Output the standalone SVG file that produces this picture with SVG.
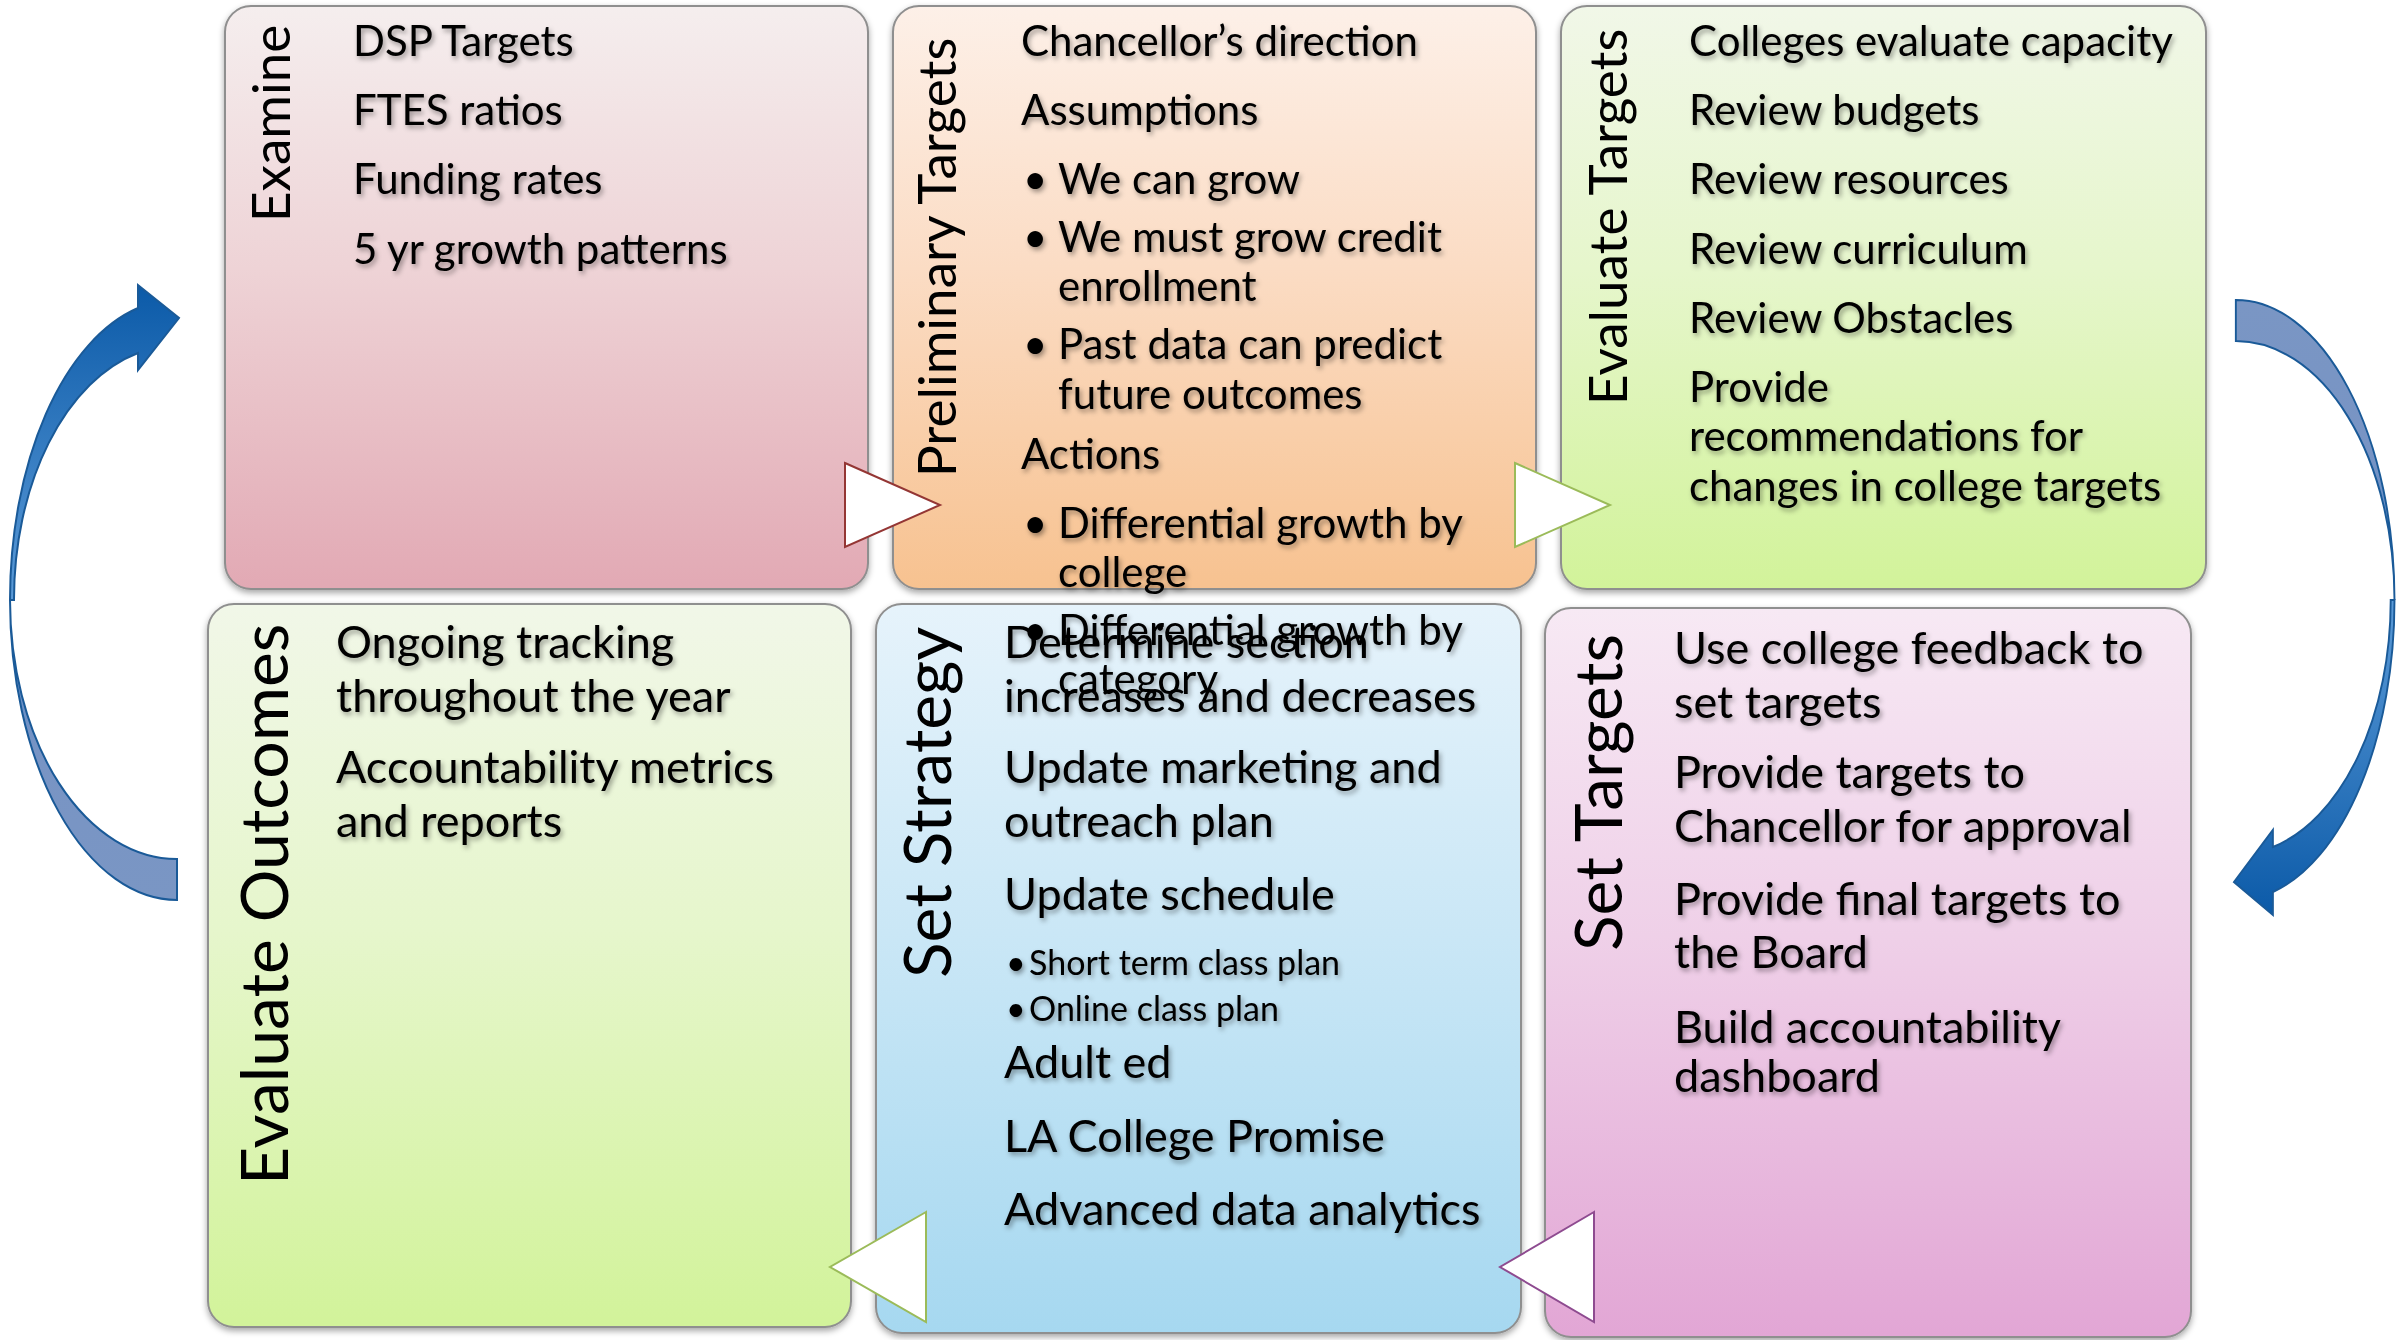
<svg xmlns="http://www.w3.org/2000/svg" width="2397" height="1340" viewBox="0 0 2397 1340">
<defs>
  <linearGradient id="gPink" x1="0" y1="0" x2="0" y2="1">
    <stop offset="0" stop-color="#f5eeee"/><stop offset="0.45" stop-color="#eed3d6"/><stop offset="1" stop-color="#e2a9b4"/>
  </linearGradient>
  <linearGradient id="gPeach" x1="0" y1="0" x2="0" y2="1">
    <stop offset="0" stop-color="#fdf0e8"/><stop offset="0.45" stop-color="#fbdcc4"/><stop offset="1" stop-color="#f7c290"/>
  </linearGradient>
  <linearGradient id="gGreen" x1="0" y1="0" x2="0" y2="1">
    <stop offset="0" stop-color="#f1f7e8"/><stop offset="0.45" stop-color="#e6f6cc"/><stop offset="1" stop-color="#d2f39a"/>
  </linearGradient>
  <linearGradient id="gBlue" x1="0" y1="0" x2="0" y2="1">
    <stop offset="0" stop-color="#e6f3fb"/><stop offset="0.45" stop-color="#cae7f6"/><stop offset="1" stop-color="#a6d8f0"/>
  </linearGradient>
  <linearGradient id="gMag" x1="0" y1="0" x2="0" y2="1">
    <stop offset="0" stop-color="#f7e9f4"/><stop offset="0.45" stop-color="#efd0e8"/><stop offset="1" stop-color="#e2a6d5"/>
  </linearGradient>
  <linearGradient id="gHead" gradientUnits="userSpaceOnUse" x1="0" y1="285" x2="0" y2="600">
    <stop offset="0" stop-color="#0b5aa8"/><stop offset="1" stop-color="#5c9bd8"/>
  </linearGradient>
  <linearGradient id="gTail" gradientUnits="userSpaceOnUse" x1="0" y1="600" x2="0" y2="900">
    <stop offset="0" stop-color="#4e86c8"/><stop offset="0.5" stop-color="#7894c4"/><stop offset="1" stop-color="#7a96c4"/>
  </linearGradient>
  <filter id="boxShadow" x="-5%" y="-5%" width="110%" height="110%">
    <feDropShadow dx="0" dy="3" stdDeviation="3" flood-color="#000" flood-opacity="0.35"/>
  </filter>
  <filter id="txtShadow" x="-5%" y="-20%" width="110%" height="140%">
    <feDropShadow dx="2" dy="3" stdDeviation="2.5" flood-color="#000" flood-opacity="0.38"/>
  </filter>
</defs>
<style>
  .box { stroke: #8f8f8f; stroke-width: 2; filter: url(#boxShadow); }
  .t { font-family: Lato, "Liberation Sans", sans-serif; fill: #000; filter: url(#txtShadow); }
  .top { font-size: 42px; }
  .bot { font-size: 45px; }
  .sm { font-size: 34px; }
  .title { font-family: Lato, "Liberation Sans", sans-serif; font-weight: 400; fill: #000; }
  .ttop { font-size: 53px; }
  .tbot { font-size: 66px; }
  .tri { fill: #ffffff; stroke-width: 2; }
  .arrow { stroke: #1a5a98; stroke-width: 2; }
</style>

<g id="node-evaluate-outcomes">
  <rect class="box" x="208" y="604" width="643" height="723" rx="26" fill="url(#gGreen)"/>
  <text class="title tbot" transform="translate(288,1185) rotate(-90)">Evaluate Outcomes</text>
  <g class="t bot">
    <text x="336" y="658">Ongoing tracking</text>
    <text x="336" y="712">throughout the year</text>
    <text x="336" y="783">Accountability metrics</text>
    <text x="336" y="837">and reports</text>
  </g>
</g>

<g id="node-set-strategy">
  <rect class="box" x="876" y="604" width="645" height="729" rx="26" fill="url(#gBlue)"/>
  <text class="title tbot" transform="translate(951,978) rotate(-90)">Set Strategy</text>
  <g class="t bot">
    <text x="1004" y="658">Determine section</text>
    <text x="1004" y="712">increases and decreases</text>
    <text x="1004" y="783">Update marketing and</text>
    <text x="1004" y="837">outreach plan</text>
    <text x="1004" y="910">Update schedule</text>
    <text class="sm" x="1006" y="975">•</text>
    <text class="sm" x="1029" y="975">Short term class plan</text>
    <text class="sm" x="1006" y="1021">•</text>
    <text class="sm" x="1029" y="1021">Online class plan</text>
    <text x="1004" y="1078">Adult ed</text>
    <text x="1004" y="1152">LA College Promise</text>
    <text x="1004" y="1225">Advanced data analytics</text>
  </g>
</g>

<g id="node-set-targets">
  <rect class="box" x="1545" y="608" width="646" height="729" rx="26" fill="url(#gMag)"/>
  <text class="title tbot" transform="translate(1622,951) rotate(-90)">Set Targets</text>
  <g class="t bot">
    <text x="1674" y="664">Use college feedback to</text>
    <text x="1674" y="718">set targets</text>
    <text x="1674" y="788">Provide targets to</text>
    <text x="1674" y="842">Chancellor for approval</text>
    <text x="1674" y="915">Provide final targets to</text>
    <text x="1674" y="968">the Board</text>
    <text x="1674" y="1043">Build accountability</text>
    <text x="1674" y="1092">dashboard</text>
  </g>
</g>

<g id="node-examine">
  <rect class="box" x="225" y="6" width="643" height="583" rx="26" fill="url(#gPink)"/>
  <text class="title ttop" transform="translate(290,222) rotate(-90)">Examine</text>
  <g class="t top">
    <text x="353" y="56">DSP Targets</text>
    <text x="353" y="125">FTES ratios</text>
    <text x="353" y="194">Funding rates</text>
    <text x="353" y="264">5 yr growth patterns</text>
  </g>
</g>

<g id="node-preliminary-targets">
  <rect class="box" x="893" y="6" width="643" height="583" rx="26" fill="url(#gPeach)"/>
  <text class="title ttop" transform="translate(956,477) rotate(-90)">Preliminary Targets</text>
  <g class="t top">
    <text x="1021" y="56">Chancellor’s direction</text>
    <text x="1021" y="125">Assumptions</text>
    <text x="1023" y="194">•</text><text x="1058" y="194">We can grow</text>
    <text x="1023" y="252">•</text><text x="1058" y="252">We must grow credit</text>
    <text x="1058" y="301">enrollment</text>
    <text x="1023" y="359">•</text><text x="1058" y="359">Past data can predict</text>
    <text x="1058" y="409">future outcomes</text>
    <text x="1021" y="469">Actions</text>
    <text x="1023" y="538">•</text><text x="1058" y="538">Differential growth by</text>
    <text x="1058" y="587">college</text>
    <text x="1023" y="645">•</text><text x="1058" y="645">Differential growth by</text>
    <text x="1058" y="694">category</text>
  </g>
</g>

<g id="node-evaluate-targets">
  <rect class="box" x="1561" y="6" width="645" height="583" rx="26" fill="url(#gGreen)"/>
  <text class="title ttop" transform="translate(1627,405) rotate(-90)">Evaluate Targets</text>
  <g class="t top">
    <text x="1689" y="56">Colleges evaluate capacity</text>
    <text x="1689" y="125">Review budgets</text>
    <text x="1689" y="194">Review resources</text>
    <text x="1689" y="264">Review curriculum</text>
    <text x="1689" y="333">Review Obstacles</text>
    <text x="1689" y="402">Provide</text>
    <text x="1689" y="451">recommendations for</text>
    <text x="1689" y="501">changes in college targets</text>
  </g>
</g>

<g id="connectors">
  <polygon class="tri" stroke="#943634" points="845,463 940,505 845,547"/>
  <polygon class="tri" stroke="#9bbb59" points="1515,463 1610,505 1515,547"/>
  <polygon class="tri" stroke="#9bbb59" points="926,1212 830,1267 926,1322"/>
  <polygon class="tri" stroke="#8e4b90" points="1594,1212 1500,1267 1594,1322"/>
  <g id="arrow-left">
    <path class="arrow" fill="url(#gTail)" d="M 10 600 A 167 300 0 0 0 177 900 L 177 859 A 167 259 0 0 1 10 600 Z"/>
    <path class="arrow" fill="url(#gHead)" d="M 10 600 A 167 300 0 0 1 138 308 L 138 285 L 179 318 L 138 370 L 138 353 A 163 254 0 0 0 14 600 Z"/>
  </g>
  <g id="arrow-right" transform="matrix(-0.95 0 0 -1 2404 1200)">
    <path class="arrow" fill="url(#gTail)" d="M 10 600 A 167 300 0 0 0 177 900 L 177 859 A 167 259 0 0 1 10 600 Z"/>
    <path class="arrow" fill="url(#gHead)" d="M 10 600 A 167 300 0 0 1 138 308 L 138 285 L 179 318 L 138 370 L 138 353 A 163 254 0 0 0 14 600 Z"/>
  </g>
</g>
</svg>
